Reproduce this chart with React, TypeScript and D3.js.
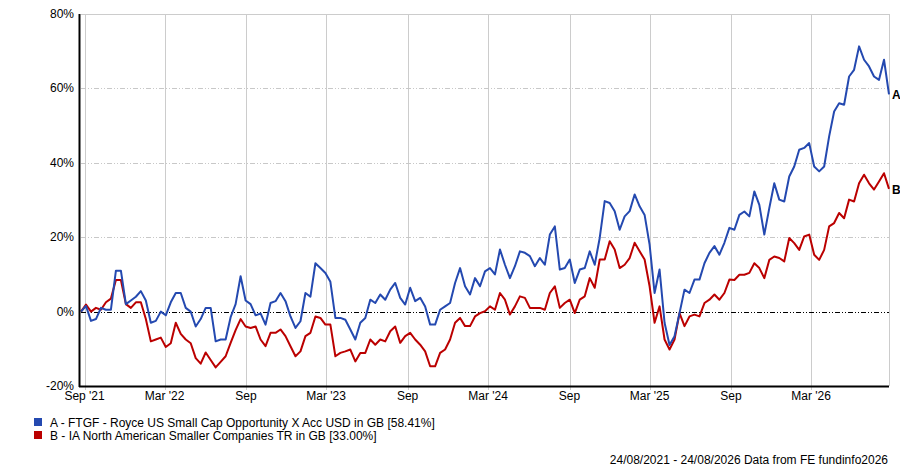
import React from 'react';
import * as d3 from 'd3';

// readings, evenly spaced from start to end date
const startDate = new Date(2021, 7, 24);
const endDate = new Date(2026, 7, 24);

const fundValues = [
  0, 1.5, -2.5, -2, 1, 0.5, 0.5, 11, 11, 2, 3, 4, 5.5, 3, -3, -2.5, 0, -1, 2.5, 5,
  5, 1, 0, -4, -2, 1, 1, -8, -7.5, -7.5, -1.5, 2, 9.5, 3, 2, -1, -0.5, -3.5, 2.3, 2.8,
  5, 2.8, -1.3, -4.4, -2.6, 5, 4, 13, 11.7, 10.4, 8, -1.7, -1.7, -2.2, -4.8, -7.5, -3, -1.7, 3.2, 2.3,
  4.6, 3.2, 5.9, 7.7, 3.7, 1.9, 6.4, 2.8, 3.7, 1.4, -3.5, -3.5, 0.5, 1.4, 2.3, 7.7, 11.7, 6.8, 4.6, 9,
  6.8, 10.8, 11.7, 10, 16.7, 12.6, 9, 12.2, 16.2, 15.8, 14.9, 12.2, 14.4, 12.6, 20.7, 22.9, 11.3, 11.7, 14, 7.7,
  11.3, 11.7, 16.2, 12.6, 19.8, 29.7, 29.2, 27, 22, 25.6, 27, 31.5, 28.3, 26, 18, 5, 11.3, -3, -9, -6.6,
  -0.4, 5.9, 5, 8.6, 8.6, 13, 15.8, 17.6, 15.3, 18.5, 22.5, 22, 26, 26.9, 25.6, 32.3, 28.7, 20.7, 27.8, 34.5,
  30.1, 29.6, 36.3, 39, 43.5, 44, 45.3, 39, 37.7, 39, 47.1, 53.8, 56, 55.6, 63.2, 65, 71.3, 67.7, 65.9, 63.2,
  62.3, 67.7, 58.41,
];

const sectorValues = [
  0, 1.9, 0, 1, 0.5, 2.5, 3.5, 8.5, 8.5, 2, 1, 2.5, 2.5, -2, -8, -7.5, -7, -9.5, -8.5, -3,
  -6, -7.5, -8.5, -12.5, -14, -11, -13, -15, -13.5, -12, -8.4, -5, -2, -4, -4.4, -4, -7.5, -9.3, -5.7, -5.7,
  -4.8, -6.6, -9.3, -12, -10.7, -6.6, -5.7, -1.3, -1.7, -3.5, -3.5, -12, -11.1, -10.7, -10.2, -13.4, -11.1, -11.1, -7.5, -8.9,
  -7.5, -8, -5.3, -4, -8.4, -6.6, -5.7, -7.5, -8.9, -10.7, -14.7, -14.7, -11.1, -10.2, -7.5, -3, -1.7, -3.9, -3.9, -1.3,
  -0.4, 0.1, 1.4, 0.5, 5, 3.2, -0.8, 1.4, 4.1, 3.7, 1, 1, 1, 0.5, 5, 6.8, 1, 2.3, 3.2, -0.4,
  3.2, 4.1, 9, 6.4, 14, 14, 18.9, 16.7, 11.7, 12.6, 14.4, 18.5, 16.2, 14, 6.8, -3, 1.4, -7.5, -10.2, -7.5,
  -0.4, -3.9, -1.3, -0.8, -1.3, 2.3, 3.2, 4.6, 3.2, 5, 8.6, 8.5, 9.9, 9.9, 10.4, 13, 11.7, 9, 13.9, 14.8,
  14.4, 13.5, 19.8, 18.4, 16.6, 20.2, 20.7, 15.3, 13.9, 16.6, 22.9, 23.8, 26.5, 25.1, 30.1, 29.6, 34.5, 36.8, 34.5, 32.8,
  35, 37.2, 33.0,
];

const yTicks = [-20, 0, 20, 40, 60, 80];
const xTickDates = [
  new Date(2021, 8, 1), new Date(2022, 2, 1), new Date(2022, 8, 1), new Date(2023, 2, 1),
  new Date(2023, 8, 1), new Date(2024, 2, 1), new Date(2024, 8, 1), new Date(2025, 2, 1),
  new Date(2025, 8, 1), new Date(2026, 2, 1),
];
const xTickLabels = ["Sep '21", "Mar '22", 'Sep', "Mar '23", 'Sep', "Mar '24", 'Sep', "Mar '25", 'Sep', "Mar '26"];

const seriesNames = [
  'A - FTGF - Royce US Small Cap Opportunity X Acc USD in GB [58.41%]',
  'B - IA North American Smaller Companies TR in GB [33.00%]',
];
const seriesKeys = ['A', 'B'];
const seriesColors = ['#2449b0', '#bb0000'];
const footer = '24/08/2021 - 24/08/2026 Data from FE fundinfo2026';

const W = 900;
const H = 467;
const left = 81;
const right = 889;
const top = 14;
const bottom = 386;
const font = '"Liberation Sans", Arial, sans-serif';

const App: React.FC = () => {
  const x = d3.scaleTime().domain([startDate, endDate]).range([left, right]);
  const y = d3.scaleLinear().domain([-20, 80]).range([bottom, top]);

  const span = endDate.getTime() - startDate.getTime();
  const toPoints = (vals: number[]) =>
    vals.map((v, i) => ({ date: new Date(startDate.getTime() + (span * i) / (vals.length - 1)), v }));

  const line = d3
    .line<{ date: Date; v: number }>()
    .x((d) => x(d.date))
    .y((d) => y(d.v));

  const allSeries = [fundValues, sectorValues];

  return (
    <div style={{ position: 'absolute', left: 0, top: 0 }}>
      <svg width={W} height={H} style={{ display: 'block', background: '#fff' }} fontFamily={font}>
        {/* vertical grid */}
        {xTickDates.map((d, i) => (
          <line key={'vg' + i} x1={Math.round(x(d)) + 0.5} x2={Math.round(x(d)) + 0.5} y1={top} y2={bottom + 4}
            stroke="#cccccc" strokeWidth={1} shapeRendering="crispEdges" />
        ))}
        {/* horizontal grid */}
        {yTicks.filter((t) => t !== 0 && t !== -20 && t !== 80).map((t) => (
          <line key={'hg' + t} x1={left} x2={right} y1={Math.round(y(t)) + 0.5} y2={Math.round(y(t)) + 0.5}
            stroke="#c8c8c8" strokeWidth={1} strokeDasharray="5,2,1,2,1,2" shapeRendering="crispEdges" />
        ))}
        <line x1={left} x2={right} y1={top + 0.5} y2={top + 0.5} stroke="#cccccc" shapeRendering="crispEdges" />
        <line x1={right + 0.5} x2={right + 0.5} y1={top} y2={bottom} stroke="#cccccc" shapeRendering="crispEdges" />
        {/* zero line */}
        <line x1={left} x2={right} y1={Math.round(y(0)) + 0.5} y2={Math.round(y(0)) + 0.5}
          stroke="#000" strokeWidth={1} strokeDasharray="5,2,1,2,1,2" shapeRendering="crispEdges" />

        {/* series */}
        {allSeries.map((vals, i) => (
          <path key={'s' + i} d={line(toPoints(vals)) || ''} fill="none" stroke={seriesColors[i]}
            strokeWidth={2} strokeLinejoin="round" />
        )).reverse()}

        {/* axes */}
        <line x1={left - 1.5} x2={left - 1.5} y1={top} y2={bottom + 1} stroke="#000" strokeWidth={2} />
        <line x1={left - 2} x2={right} y1={bottom + 0.5} y2={bottom + 0.5} stroke="#000" strokeWidth={2} />
        {yTicks.map((t) => (
          <text key={'yl' + t} x={left - 7} y={y(t) + 4} textAnchor="end" fontSize={12} fill="#000">
            {t}%
          </text>
        ))}
        {xTickDates.map((d, i) => (
          <text key={'xl' + i} x={x(d)} y={400} textAnchor="middle" fontSize={12} fill="#000">
            {xTickLabels[i]}
          </text>
        ))}

        {/* end labels */}
        {allSeries.map((vals, i) => (
          <text key={'el' + i} x={right + 3} y={y(vals[vals.length - 1]) + 5} fontSize={12} fontWeight="bold" fill="#000">
            {seriesKeys[i]}
          </text>
        ))}

        {/* legend */}
        {seriesNames.map((name, i) => (
          <g key={'lg' + i} transform={`translate(34, ${418 + i * 13})`}>
            <rect x={0} y={0} width={8} height={8} fill={seriesColors[i]} />
            <text x={16} y={9} fontSize={12} fill="#000">{name}</text>
          </g>
        ))}

        <text x={888} y={464} textAnchor="end" fontSize={12} fill="#000">{footer}</text>
      </svg>
    </div>
  );
};

export default App;
